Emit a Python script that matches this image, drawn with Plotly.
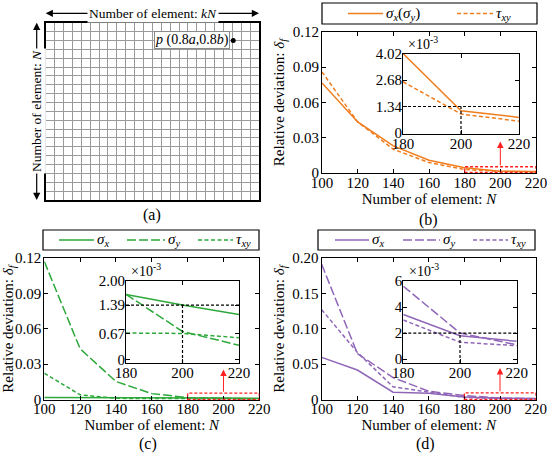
import plotly.graph_objects as go

# ---------------- data ----------------
N = [100, 120, 140, 160, 180, 200, 220]
N_zoom_start = 180

# panel (b): relative deviation
b_sx = [0.0765, 0.0432, 0.0227, 0.0105, 0.00402, 0.00113, 0.00079]
b_txy = [0.0859, 0.0432, 0.0199, 0.0085, 0.00259, 0.00096, 0.00060]
b_thr = 1.34  # x1e-3

# panel (c)
c_sx = [0.0018, 0.0018, 0.0017, 0.0017, 0.00166, 0.00139, 0.00115]
c_sy = [0.117, 0.043, 0.0153, 0.0050, 0.00166, 0.00072, 0.00037]
c_txy = [0.0223, 0.0040, 0.0010, 0.0007, 0.00068, 0.00067, 0.00056]
c_thr = 1.39

# panel (d)
d_sx = [0.0595, 0.0417, 0.0103, 0.0089, 0.00343, 0.00180, 0.00137]
d_sy = [0.191, 0.065, 0.031, 0.0117, 0.0056, 0.0020, 0.0011]
d_txy = [0.127, 0.0666, 0.018, 0.011, 0.0030, 0.0013, 0.00103]
d_thr = 2.0

# panel (a): mesh
mesh_cols = 24
mesh_rows = 20
point_p = [21.1, 18.0]

# tick labels
x_ticks = [100, 120, 140, 160, 180, 200, 220]
x_ticks_inset = [180, 200, 220]
b_yticks = [0, 0.03, 0.06, 0.09, 0.12]
b_yticktext = ["0", "0.03", "0.06", "0.09", "0.12"]
b_inset_yticks = [0, 1.34, 2.68, 4.02]
b_inset_yticktext = ["0", "1.34", "2.68", "4.02"]
c_yticks = [0, 0.03, 0.06, 0.09, 0.12]
c_yticktext = ["0", "0.03", "0.06", "0.09", "0.12"]
c_inset_yticks = [0, 0.67, 1.39, 2.00]
c_inset_yticktext = ["0", "0.67", "1.39", "2.00"]
d_yticks = [0, 0.05, 0.10, 0.15, 0.20]
d_yticktext = ["0", "0.05", "0.10", "0.15", "0.20"]
d_inset_yticks = [0, 2, 4, 6]
d_inset_yticktext = ["0", "2", "4", "6"]

# ---------------- style ----------------
FONT = "Liberation Serif, Times New Roman, Times, serif"
ORANGE = "#F07D1E"
GREEN = "#2DA83A"
PURPLE = "#9066B8"
RED = "#FF2020"
DASH_SY = "9px,3px"
DASH_TXY = "4px,2.5px"
LW = 1.5

W, H = 550, 453
def px(x):
    return x / W
def py(y):
    return 1 - y / H

S_X = "<i>σ</i><sub><i>x</i></sub>"
S_Y = "<i>σ</i><sub><i>y</i></sub>"
T_XY = "<i>τ</i><sub><i>xy</i></sub>"

fig = go.Figure()

def zoom_part(vals):
    xs = [n for n in N if n >= N_zoom_start]
    ys = [v * 1e3 for n, v in zip(N, vals) if n >= N_zoom_start]
    return xs, ys

def add_series(vals, name, color, dash, main_axes, inset_axes):
    fig.add_trace(go.Scatter(x=N, y=vals, mode="lines", name=name,
                             line=dict(color=color, width=LW, dash=dash),
                             xaxis=main_axes[0], yaxis=main_axes[1],
                             showlegend=False))
    xs, ys = zoom_part(vals)
    fig.add_trace(go.Scatter(x=xs, y=ys, mode="lines", name=name,
                             line=dict(color=color, width=LW, dash=dash),
                             xaxis=inset_axes[0], yaxis=inset_axes[1],
                             showlegend=False))

# panel (a) point
fig.add_trace(go.Scatter(x=[point_p[0]], y=[point_p[1]], mode="markers",
                         marker=dict(color="black", size=5),
                         xaxis="x", yaxis="y", showlegend=False))

# panel (b)
add_series(b_sx, S_X + "(" + S_Y + ")", ORANGE, "solid", ("x2", "y2"), ("x3", "y3"))
add_series(b_txy, T_XY, ORANGE, DASH_TXY, ("x2", "y2"), ("x3", "y3"))
# panel (c)
add_series(c_sx, S_X, GREEN, "solid", ("x4", "y4"), ("x5", "y5"))
add_series(c_sy, S_Y, GREEN, DASH_SY, ("x4", "y4"), ("x5", "y5"))
add_series(c_txy, T_XY, GREEN, DASH_TXY, ("x4", "y4"), ("x5", "y5"))
# panel (d)
add_series(d_sx, S_X, PURPLE, "solid", ("x6", "y6"), ("x7", "y7"))
add_series(d_sy, S_Y, PURPLE, DASH_SY, ("x6", "y6"), ("x7", "y7"))
add_series(d_txy, T_XY, PURPLE, DASH_TXY, ("x6", "y6"), ("x7", "y7"))

tickfont = dict(family=FONT, size=15, color="black")

def frame_axis(domain, rng, tickvals=None, ticktext=None, anchor=None, title=None,
               standoff=2, labshift=-3):
    d = dict(domain=domain, range=rng, showline=True, mirror="allticks",
             linecolor="black", linewidth=1.2, ticks="inside", ticklen=4,
             tickcolor="black", tickwidth=1, showgrid=False, zeroline=False,
             tickfont=tickfont, anchor=anchor, automargin=False,
             ticklabelstandoff=labshift)
    if tickvals is not None:
        d["tickmode"] = "array"
        d["tickvals"] = tickvals
        d["ticktext"] = ticktext if ticktext is not None else [str(v) for v in tickvals]
    if title:
        d["title"] = dict(text=title, font=dict(family=FONT, size=15, color="black"), standoff=standoff)
    return d

XT = "Number of element: <i>N</i>"
YT = "Relative deviation: <i>δ</i><sub><i>f</i></sub>"

# domains
a_x = [px(45.7), px(259)]
a_y = [py(200), py(22.7)]
b_x = [px(322), px(536)]
b_y = [py(173), py(32)]
bi_x = [px(403), px(519)]
bi_y = [py(134), py(53.5)]
c_x = [px(44.3), px(259.3)]
c_y = [py(400), py(258)]
ci_x = [px(126), px(239)]
ci_y = [py(363), py(281)]
d_x = [px(321.7), px(535.7)]
d_y = [py(400), py(258)]
di_x = [px(403.3), px(516.7)]
di_y = [py(363), py(281)]

inset_ranges = {"y3": [-0.05, 4.02], "y5": [-0.08, 2.0], "y7": [-0.3, 6.0]}

layout = dict(
    width=W, height=H, margin=dict(l=0, r=0, t=0, b=0, autoexpand=False),
    paper_bgcolor="white", plot_bgcolor="white", showlegend=False,
    font=dict(family=FONT, size=15, color="black"),
    # panel (a) mesh
    xaxis=dict(domain=a_x, range=[0, mesh_cols], dtick=1, tick0=0, showgrid=True,
               gridcolor="#9a9a9a", gridwidth=1, showline=True, mirror=True,
               linecolor="black", linewidth=2, showticklabels=False, ticks="",
               zeroline=False, anchor="y", fixedrange=True),
    yaxis=dict(domain=a_y, range=[0, mesh_rows], dtick=1, tick0=0, showgrid=True,
               gridcolor="#9a9a9a", gridwidth=1, showline=True, mirror=True,
               linecolor="black", linewidth=2, showticklabels=False, ticks="",
               zeroline=False, anchor="x", fixedrange=True),
    xaxis2=frame_axis(b_x, [100, 220], x_ticks, anchor="y2", title=XT, standoff=0, labshift=-4),
    yaxis2=frame_axis(b_y, [-0.0004, 0.12], b_yticks, b_yticktext, anchor="x2", title=YT, standoff=4, labshift=-1),
    xaxis3=frame_axis(bi_x, [180, 220], x_ticks_inset, anchor="y3", labshift=-4),
    yaxis3=frame_axis(bi_y, inset_ranges["y3"], b_inset_yticks, b_inset_yticktext, anchor="x3"),
    xaxis4=frame_axis(c_x, [100, 220], x_ticks, anchor="y4", title=XT, standoff=0, labshift=-5),
    yaxis4=frame_axis(c_y, [-0.0004, 0.12], c_yticks, c_yticktext, anchor="x4", title=YT, standoff=4, labshift=-1),
    xaxis5=frame_axis(ci_x, [180, 220], x_ticks_inset, anchor="y5", labshift=-4),
    yaxis5=frame_axis(ci_y, inset_ranges["y5"], c_inset_yticks, c_inset_yticktext, anchor="x5"),
    xaxis6=frame_axis(d_x, [100, 220], x_ticks, anchor="y6", title=XT, standoff=0, labshift=-5),
    yaxis6=frame_axis(d_y, [-0.0007, 0.20], d_yticks, d_yticktext, anchor="x6", title=YT, standoff=4, labshift=-1),
    xaxis7=frame_axis(di_x, [180, 220], x_ticks_inset, anchor="y7", labshift=-4),
    yaxis7=frame_axis(di_y, inset_ranges["y7"], d_inset_yticks, d_inset_yticktext, anchor="x7"),
)
fig.update_layout(**layout)

shapes = []
annotations = []

# ---- legends (boxed keys above each panel) ----
def legend_box(box, yc, entries):
    x0, x1, y0, y1 = box
    shapes.append(dict(type="rect", xref="paper", yref="paper", x0=px(x0), x1=px(x1),
                       y0=py(y1), y1=py(y0), line=dict(color="black", width=1.2),
                       fillcolor="white", layer="above"))
    for (lx0, lx1, name, color, dash) in entries:
        shapes.append(dict(type="line", xref="paper", yref="paper", x0=px(lx0), x1=px(lx1),
                           y0=py(yc), y1=py(yc), line=dict(color=color, width=LW, dash=dash),
                           layer="above"))
        annotations.append(dict(xref="paper", yref="paper", x=px(lx1 + 1), y=py(yc), text=name,
                                xanchor="left", yanchor="middle", showarrow=False,
                                font=dict(family=FONT, size=15, color="black")))

legend_box((322, 537, 3, 24), 13.5, [
    (348, 383, S_X + "(" + S_Y + ")", ORANGE, "solid"),
    (457, 493, T_XY, ORANGE, DASH_TXY)])
legend_box((43, 259, 230, 250), 240, [
    (59, 94, S_X, GREEN, "solid"),
    (127, 165, S_Y, GREEN, DASH_SY),
    (198, 233, T_XY, GREEN, DASH_TXY)])
legend_box((318, 535, 230, 250), 240, [
    (335, 369, S_X, PURPLE, "solid"),
    (403, 440, S_Y, PURPLE, DASH_SY),
    (473, 508, T_XY, PURPLE, DASH_TXY)])

# ---- zoom indicators ----
def zoom_marks(main, inset, ytop, arrow_top, thr):
    xa, ya = main
    xi, yi = inset
    shapes.append(dict(type="rect", xref=xa, yref=ya, x0=N_zoom_start, x1=N[-1],
                       y0=0, y1=ytop, line=dict(color=RED, width=1.4, dash="3px,2px")))
    annotations.append(dict(xref=xa, yref=ya, axref=xa, ayref=ya,
                            x=200, y=arrow_top, ax=200, ay=ytop, text="",
                            showarrow=True, arrowhead=2, arrowsize=1.3,
                            arrowwidth=1, arrowcolor=RED))
    shapes.append(dict(type="line", xref=xi, yref=yi, x0=N_zoom_start, x1=N[-1],
                       y0=thr, y1=thr, line=dict(color="black", width=1.2, dash="3px,2px")))
    shapes.append(dict(type="line", xref=xi, yref=yi, x0=200, x1=200,
                       y0=inset_ranges[yi][0], y1=thr,
                       line=dict(color="black", width=1.2, dash="3px,2px")))
    annotations.append(dict(xref=xi + " domain", yref=yi + " domain", x=0.03, y=1.0,
                            xanchor="left", yanchor="bottom", showarrow=False,
                            text="×10<sup>-3</sup>", font=dict(family=FONT, size=14)))

zoom_marks(("x2", "y2"), ("x3", "y3"), 0.0049, 0.0265, b_thr)
zoom_marks(("x4", "y4"), ("x5", "y5"), 0.0054, 0.0255, c_thr)
zoom_marks(("x6", "y6"), ("x7", "y7"), 0.0094, 0.0445, d_thr)

# ---- panel (a) annotations: dimension arrows ----
top_y = py(13.3)
mid_x = px(153)
arrow_kw = dict(xref="paper", yref="paper", text="", showarrow=True, arrowhead=2,
                arrowsize=1.2, arrowwidth=1.2, arrowcolor="black",
                xanchor="center", yanchor="middle")
annotations += [
    dict(arrow_kw, x=px(259), y=top_y, ax=-(259 - 153), ay=0),
    dict(arrow_kw, x=px(45.7), y=top_y, ax=(153 - 45.7), ay=0),
    dict(xref="paper", yref="paper", x=mid_x, y=top_y, text="Number of element: <i>kN</i>",
         xanchor="center", yanchor="middle",
         showarrow=False, bgcolor="white", font=dict(family=FONT, size=13.5)),
    dict(arrow_kw, x=px(36.7), y=py(22.7), ax=0, ay=(111.3 - 22.7)),
    dict(arrow_kw, x=px(36.7), y=py(200), ax=0, ay=-(200 - 111.3)),
    dict(xref="paper", yref="paper", x=px(36.7), y=py(111.3), text="Number of element: <i>N</i>",
         xanchor="center", yanchor="middle",
         textangle=-90, showarrow=False, bgcolor="white", font=dict(family=FONT, size=13.5)),
    dict(xref="x", yref="y", x=point_p[0], y=point_p[1], xanchor="right", yanchor="middle", xshift=-3,
         text="<i>p</i> (0.8<i>a</i>,0.8<i>b</i>)", showarrow=False, bgcolor="white",
         bordercolor="#8a8a8a", borderwidth=1, borderpad=0, font=dict(family=FONT, size=14)),
]

# ---- panel labels ----
for lab, xx, yy in [("(a)", 151.7, 215), ("(b)", 428, 220), ("(c)", 148, 444), ("(d)", 425, 444)]:
    annotations.append(dict(xref="paper", yref="paper", x=px(xx), y=py(yy), text=lab,
                            xanchor="center", yanchor="middle",
                            showarrow=False, font=dict(family=FONT, size=16)))

fig.update_layout(shapes=shapes, annotations=annotations)
fig.write_html("out.html", config={"displayModeBar": False},
               post_script="document.body.style.margin='0';")
